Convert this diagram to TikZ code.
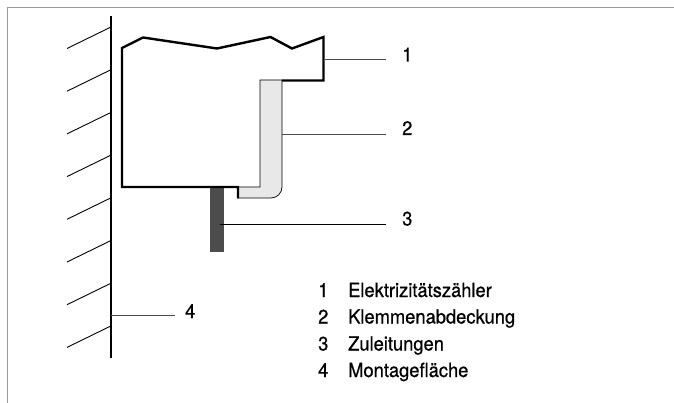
\documentclass[tikz,border=0pt]{standalone}
\usepackage{fontspec}
\setmainfont[FakeStretch=0.94,FakeBold=0.6]{TeX Gyre Heros}
\tikzset{
  lbl/.style={inner sep=0pt,font=\fontsize{19.5}{22}\selectfont,text=black,anchor=base west},
  lead/.style={line width=0.8pt,draw=black!70},
  hatch/.style={line width=0.9pt,draw=black},
  body/.style={line width=2.4pt,draw=black,line join=miter}
}
\begin{document}
\begin{tikzpicture}[x=1pt,y=-1pt]
\useasboundingbox (0,0) rectangle (674,403);
\draw[line width=0.8pt,draw=black!40] (7.5,403) -- (7.5,7.5) -- (674,7.5);
% wall
\coordinate (wt) at (111,16);
\coordinate (wb) at (111,358);
\draw[line width=1.4pt] (wt) -- (wb);
\foreach \y in {27,69.7,112.4,155.1,197.8,240.5,283.2,325.9}
  \draw[hatch] (111,\y) -- (67,\y+21.5);
% cover
\draw[fill=black!9,line width=0.7pt] (260,80) -- (282,80) -- (282,187) arc (0:90:11) -- (238,198) -- (238,187) -- (260,187) -- cycle;
% cable
\fill[fill=black!70] (210,187) rectangle (224,252);
% body
\draw[body] (238,198.5) -- (238,187) -- (122,187) -- (122,48) -- (143,37.5) -- (217,48.5) -- (270.5,37) -- (292,48.5) -- (323.5,37) -- (323.5,80.5) -- (282,80.5);
% leaders and labels
\node[lbl] (n1) at (402,61.5) {1};
\node[lbl] (n2) at (402,135) {2};
\node[lbl] (n3) at (402,225.5) {3};
\node[lbl] (n4) at (185,318) {4};
\coordinate (a1) at (325,59);
\coordinate (a2) at (282,134);
\coordinate (a3) at (220,224);
\coordinate (a4) at (111,315);
\draw[lead] (a1) -- (386,59);
\draw[lead] (a2) -- (386,134);
\draw[line width=0.8pt] (a3) -- (386,224);
\draw[lead] (a4) -- (175,315);
% legend
\node[lbl] (l1) at (318,297) {1};
\node[lbl] (t1) at (348,297) {Elektrizitätszähler};
\node[lbl] (l2) at (318,323.5) {2};
\node[lbl] (t2) at (348,323.5) {Klemmenabdeckung};
\node[lbl] (l3) at (318,350.5) {3};
\node[lbl] (t3) at (348,350.5) {Zuleitungen};
\node[lbl] (l4) at (318,377) {4};
\node[lbl] (t4) at (348,377) {Montagefläche};
\end{tikzpicture}
\end{document}
